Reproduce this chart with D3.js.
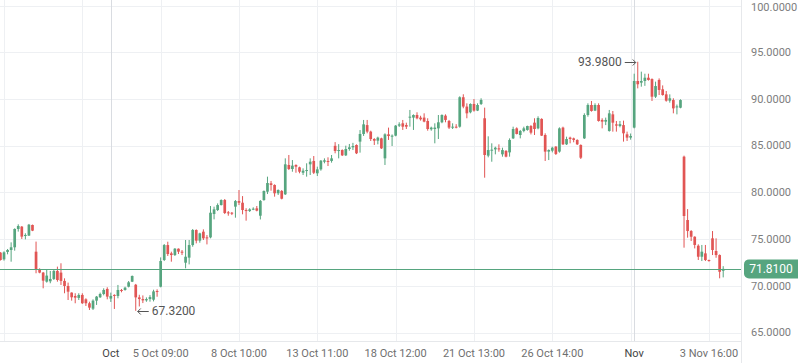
<!DOCTYPE html>
<html>
<head>
    <meta charset="utf-8">
    <title>Candles</title>
    <script src="https://cdn.jsdelivr.net/npm/d3@7"></script>
    <style>
        body { margin: 0; background: #fff; }
        svg { display: block; font-family: Roboto, "Noto Sans", sans-serif; }
    </style>
</head>
<body>
<svg id="chart"></svg>
<script>
// candle values, one entry per bar
const open = [73.55,72.83,73.62,73.83,74.12,76.08,76.33,75.33,75.37,76.51,
  73.65,71.80,71.41,70.44,70.48,70.73,71.59,71.41,70.52,69.98,
  69.27,68.91,68.70,69.02,68.55,68.13,67.55,68.41,68.77,69.12,
  69.66,68.63,69.02,68.91,69.55,69.55,69.90,70.44,70.11,68.76,
  68.58,68.44,68.58,68.51,69.44,69.90,72.76,74.36,73.47,73.29,
  73.97,73.65,72.47,73.01,74.36,75.97,74.83,75.79,75.18,75.18,
  77.68,78.11,78.64,79.18,77.86,77.82,78.47,79.07,78.89,78.11,
  78.00,78.18,78.29,77.50,79.18,80.07,80.97,80.79,79.90,80.15,
  79.79,82.93,82.50,82.93,82.68,82.10,82.32,83.00,83.36,82.04,
  82.46,83.28,83.36,83.36,84.98,84.46,84.53,83.96,84.64,84.82,
  85.07,85.43,86.25,87.20,86.50,85.71,85.53,85.78,83.64,86.21,
  85.96,86.07,87.14,87.39,87.21,88.03,88.00,88.28,88.00,88.00,
  87.64,86.75,86.78,86.85,87.50,88.21,87.64,86.93,87.03,87.03,
  90.18,89.18,88.57,89.46,88.75,89.46,87.93,83.93,84.46,84.60,
  84.71,84.07,84.43,84.28,85.78,86.85,86.14,86.57,86.68,87.10,
  87.46,86.85,87.86,86.14,84.36,84.46,84.89,84.36,86.93,85.14,
  85.86,85.78,85.61,85.07,85.78,88.28,89.35,88.75,89.35,87.75,
  87.57,86.57,88.35,87.28,87.10,87.20,86.21,85.86,86.93,91.92,
  91.74,91.92,92.27,92.13,90.24,92.03,91.03,90.49,89.81,89.88,
  89.10,89.06,83.82,77.04,75.86,75.25,74.29,73.11,73.47,72.76,
  75.08,73.72,73.29,71.60];
const high = [73.60,73.69,73.94,74.65,76.15,76.58,76.40,75.62,76.62,76.55,
  74.73,71.87,71.48,71.69,71.59,71.69,72.05,72.41,70.80,70.34,
  69.30,69.20,69.20,69.20,68.66,68.30,68.55,68.91,69.27,69.73,
  69.84,69.27,69.09,70.09,69.66,69.90,70.51,71.10,70.20,69.04,
  68.97,68.76,69.00,69.58,69.62,73.04,74.47,74.72,73.65,74.04,
  74.00,73.83,74.90,74.90,76.08,76.04,75.68,76.04,75.43,78.54,
  78.47,78.82,79.25,79.29,78.00,77.90,79.18,80.25,79.60,78.30,
  78.30,78.40,78.54,79.18,80.20,81.68,81.22,80.86,80.32,80.25,
  83.64,84.00,83.46,83.00,82.75,82.57,83.11,83.64,83.89,82.75,
  83.46,83.64,83.75,84.00,85.38,85.16,84.60,85.00,85.18,85.30,
  85.14,86.67,87.75,87.75,86.60,85.80,85.96,85.85,86.32,86.93,
  86.20,87.20,87.50,87.75,87.46,88.82,88.35,88.57,88.20,88.46,
  87.93,87.03,87.39,88.28,88.35,88.35,87.75,87.39,87.30,90.28,
  90.50,89.53,89.53,89.99,89.53,90.07,89.07,86.00,85.25,84.89,
  85.14,84.78,84.53,85.78,87.03,86.96,86.68,87.03,87.14,87.20,
  87.93,88.14,87.93,86.32,84.60,84.89,84.96,86.96,87.03,85.96,
  85.96,85.86,85.68,85.14,88.46,89.53,89.78,89.53,89.53,87.93,
  88.00,88.82,88.71,87.64,87.64,87.68,86.50,86.30,92.70,93.98,
  92.92,92.70,92.70,92.20,91.85,92.20,91.45,90.85,90.49,90.07,
  89.40,89.96,83.93,78.21,75.96,75.30,74.44,74.37,74.37,72.80,
  75.86,75.08,73.36,72.10];
const low = [72.70,72.69,73.37,72.58,73.76,75.80,75.01,74.97,75.33,75.85,
  71.34,71.34,69.73,70.34,70.27,70.62,70.44,70.09,69.20,68.48,
  68.41,68.13,68.48,68.06,67.84,67.41,67.41,67.95,68.70,68.98,
  68.55,68.27,67.52,68.66,69.30,69.48,69.83,70.40,67.32,67.79,
  68.15,68.29,68.30,68.33,68.83,69.83,72.65,73.19,72.58,73.19,
  73.40,73.29,71.87,72.29,74.18,74.54,74.61,74.90,74.43,75.08,
  77.11,78.00,78.60,77.68,77.50,77.57,77.29,78.64,77.65,76.97,
  77.90,78.10,77.97,77.10,79.10,79.82,80.18,79.54,79.72,79.25,
  79.72,82.39,82.21,82.10,82.04,81.86,81.68,81.86,81.96,81.75,
  82.32,83.11,82.82,83.18,84.18,83.64,83.89,83.89,84.46,84.53,
  84.10,84.25,86.04,86.32,85.50,85.07,85.14,84.64,82.93,85.61,
  84.96,86.00,87.00,86.68,86.78,87.03,86.68,87.82,87.68,87.50,
  86.60,86.60,85.25,85.71,87.40,87.50,86.78,86.78,86.85,86.93,
  89.00,87.93,88.46,88.64,88.70,89.35,81.57,83.75,83.28,84.07,
  84.35,83.82,83.75,83.82,85.71,86.20,85.78,86.43,86.60,86.20,
  86.14,86.75,86.03,83.36,83.46,84.28,84.00,84.25,85.07,85.07,
  85.25,85.36,85.07,83.57,85.71,88.10,88.64,88.70,87.57,86.85,
  87.20,86.50,86.50,86.50,86.96,85.43,85.50,85.64,86.85,91.13,
  91.31,91.40,91.96,89.78,90.10,90.42,90.35,89.71,89.60,88.46,
  88.35,89.00,74.08,75.15,74.79,74.00,72.76,72.65,72.65,72.58,
  73.29,73.00,70.80,70.90];
const close = [72.76,73.58,73.83,74.12,76.08,76.40,75.26,75.44,76.54,75.90,
  71.80,71.41,70.55,71.09,70.73,71.59,70.62,70.52,69.98,69.37,
  68.77,68.73,69.02,68.13,68.13,67.66,68.41,68.84,69.12,69.55,
  68.84,68.91,68.95,69.55,69.45,69.80,70.37,71.05,68.76,68.58,
  68.44,68.58,68.79,69.40,69.37,72.65,74.36,73.40,73.29,73.97,
  73.65,73.54,73.11,74.36,75.97,74.83,75.61,75.08,75.08,77.82,
  78.18,78.64,79.18,77.79,77.75,77.75,79.07,78.89,78.11,78.00,
  78.18,78.25,78.04,79.08,80.15,81.00,80.79,79.90,80.25,79.32,
  83.00,82.50,82.86,82.75,82.21,82.32,82.39,83.28,82.10,82.46,
  83.39,83.43,83.28,83.64,84.43,84.53,83.96,84.64,84.82,84.96,
  84.18,86.25,87.28,86.50,85.71,85.53,85.86,84.71,86.21,86.03,
  86.07,87.14,87.28,87.03,87.03,88.10,88.28,87.93,87.82,87.57,
  86.78,86.93,86.93,87.50,88.28,87.75,86.93,87.03,86.93,90.18,
  89.18,88.46,89.46,88.75,89.35,89.89,84.00,84.53,84.57,84.78,
  84.60,84.53,83.82,85.61,86.78,86.25,86.57,86.85,87.10,86.39,
  86.78,87.96,86.07,84.36,84.53,84.78,84.11,86.85,85.14,85.71,
  85.71,85.61,85.14,83.71,88.28,89.35,88.71,89.35,87.64,87.57,
  87.75,88.46,87.46,87.14,87.30,86.32,85.86,86.03,91.92,91.57,
  91.92,92.27,92.03,90.24,91.38,90.96,90.42,89.81,90.07,88.99,
  89.20,89.88,77.47,75.86,75.25,74.37,73.11,73.65,72.76,72.65,
  73.83,73.29,71.50,71.81];

// time axis: bar index of each tick and its label ("" = grid line only)
const tickIndex = [1, 23, 31, 45, 67, 89, 111, 133, 155, 177, 178, 199];
const tickLabel = ["", "", "Oct", "5 Oct 09:00", "8 Oct 10:00", "13 Oct 11:00",
  "18 Oct 12:00", "21 Oct 13:00", "26 Oct 14:00", "", "Nov", "3 Nov 16:00"];
const monthTicks = ["Oct", "Nov"];
const priceTicks = [65, 70, 75, 80, 85, 90, 95, 100];
const lastPrice = 71.81;

const W = 798, H = 363;
const plotRight = 741, plotBottom = 341;
const up = '#56a57f', down = '#e15554';

const svg = d3.select('#chart').attr('width', W).attr('height', H);

const x = d3.scaleLinear().domain([0, open.length - 1]).range([0.44, 723.2]);
const y = d3.scaleLinear().domain([65, 100]).range([332.5, 5.5]);

svg.append('defs').append('clipPath').attr('id', 'plot')
    .append('rect').attr('x', 0).attr('y', 0).attr('width', plotRight).attr('height', plotBottom);

// grid
const grid = svg.append('g');
grid.selectAll('line.h')
    .data(priceTicks)
    .join('line')
    .attr('x1', 0).attr('x2', plotRight)
    .attr('y1', d => Math.round(y(d)) + 0.5).attr('y2', d => Math.round(y(d)) + 0.5)
    .attr('stroke', '#eef0f3');
grid.selectAll('line.v')
    .data(tickIndex)
    .join('line')
    .attr('x1', d => Math.round(x(d)) + 0.5).attr('x2', d => Math.round(x(d)) + 0.5)
    .attr('y1', 0).attr('y2', plotBottom)
    .attr('stroke', (d, i) => monthTicks.includes(tickLabel[i]) ? '#d9dce1' : '#eef0f3');

// borders of the plot
svg.append('line').attr('x1', plotRight + 0.5).attr('x2', plotRight + 0.5)
    .attr('y1', 0).attr('y2', H).attr('stroke', '#e6e8eb');
svg.append('line').attr('x1', 0).attr('x2', plotRight)
    .attr('y1', plotBottom + 0.5).attr('y2', plotBottom + 0.5).attr('stroke', '#e6e8eb');

// price axis labels (top one kept inside the frame)
svg.append('g').selectAll('text')
    .data(priceTicks)
    .join('text')
    .attr('x', 751).attr('y', d => Math.max(7, y(d)))
    .attr('dy', '0.35em')
    .attr('font-size', 11)
    .attr('fill', '#7d7d7d')
    .text(d => d.toFixed(4));

// time axis labels
svg.append('g').selectAll('text')
    .data(tickIndex)
    .join('text')
    .attr('x', d => x(d)).attr('y', 357)
    .attr('text-anchor', 'middle')
    .attr('font-size', 11)
    .attr('fill', (d, i) => monthTicks.includes(tickLabel[i]) ? '#444' : '#6f6f6f')
    .text((d, i) => tickLabel[i]);

// candles
const candles = svg.append('g').attr('clip-path', 'url(#plot)')
    .selectAll('g')
    .data(d3.range(open.length))
    .join('g')
    .attr('fill', i => close[i] >= open[i] ? up : down);

candles.append('rect')
    .attr('x', i => x(i) - 0.5).attr('width', 1)
    .attr('y', i => y(high[i]))
    .attr('height', i => Math.max(1, y(low[i]) - y(high[i])));

candles.append('rect')
    .attr('x', i => x(i) - 1.35).attr('width', 2.7)
    .attr('y', i => y(Math.max(open[i], close[i])))
    .attr('height', i => Math.max(1, Math.abs(y(open[i]) - y(close[i]))));

// last price line and label
svg.append('line')
    .attr('x1', 0).attr('x2', plotRight)
    .attr('y1', Math.round(y(lastPrice)) + 0.5).attr('y2', Math.round(y(lastPrice)) + 0.5)
    .attr('stroke', up);
svg.append('rect')
    .attr('x', 744).attr('y', y(lastPrice) - 9.5)
    .attr('width', 60).attr('height', 19)
    .attr('rx', 5)
    .attr('fill', up);
svg.append('text')
    .attr('x', 771).attr('y', y(lastPrice))
    .attr('dy', '0.36em')
    .attr('text-anchor', 'middle')
    .attr('font-size', 12)
    .attr('fill', '#fff')
    .text(lastPrice.toFixed(4));

// high / low markers: text plus a drawn arrow pointing at the bar
const hiIdx = d3.maxIndex(high), loIdx = d3.minIndex(low);
const marks = svg.append('g').attr('stroke', '#555').attr('fill', 'none').attr('stroke-width', 1);

const hx = x(hiIdx) - 2, hy = Math.round(y(high[hiIdx])) + 0.5;
marks.append('path').attr('d', `M${hx - 11},${hy}H${hx}M${hx - 3},${hy - 3}L${hx},${hy}L${hx - 3},${hy + 3}`);
svg.append('text')
    .attr('x', hx - 14).attr('y', y(high[hiIdx]))
    .attr('dy', '0.35em')
    .attr('text-anchor', 'end')
    .attr('font-size', 12)
    .attr('fill', '#555')
    .text(high[hiIdx].toFixed(4));

const lx = x(loIdx) + 2, ly = Math.round(y(low[loIdx])) + 0.5;
marks.append('path').attr('d', `M${lx + 11},${ly}H${lx}M${lx + 3},${ly - 3}L${lx},${ly}L${lx + 3},${ly + 3}`);
svg.append('text')
    .attr('x', lx + 14).attr('y', y(low[loIdx]))
    .attr('dy', '0.35em')
    .attr('font-size', 12)
    .attr('fill', '#555')
    .text(low[loIdx].toFixed(4));
</script>
</body>
</html>
